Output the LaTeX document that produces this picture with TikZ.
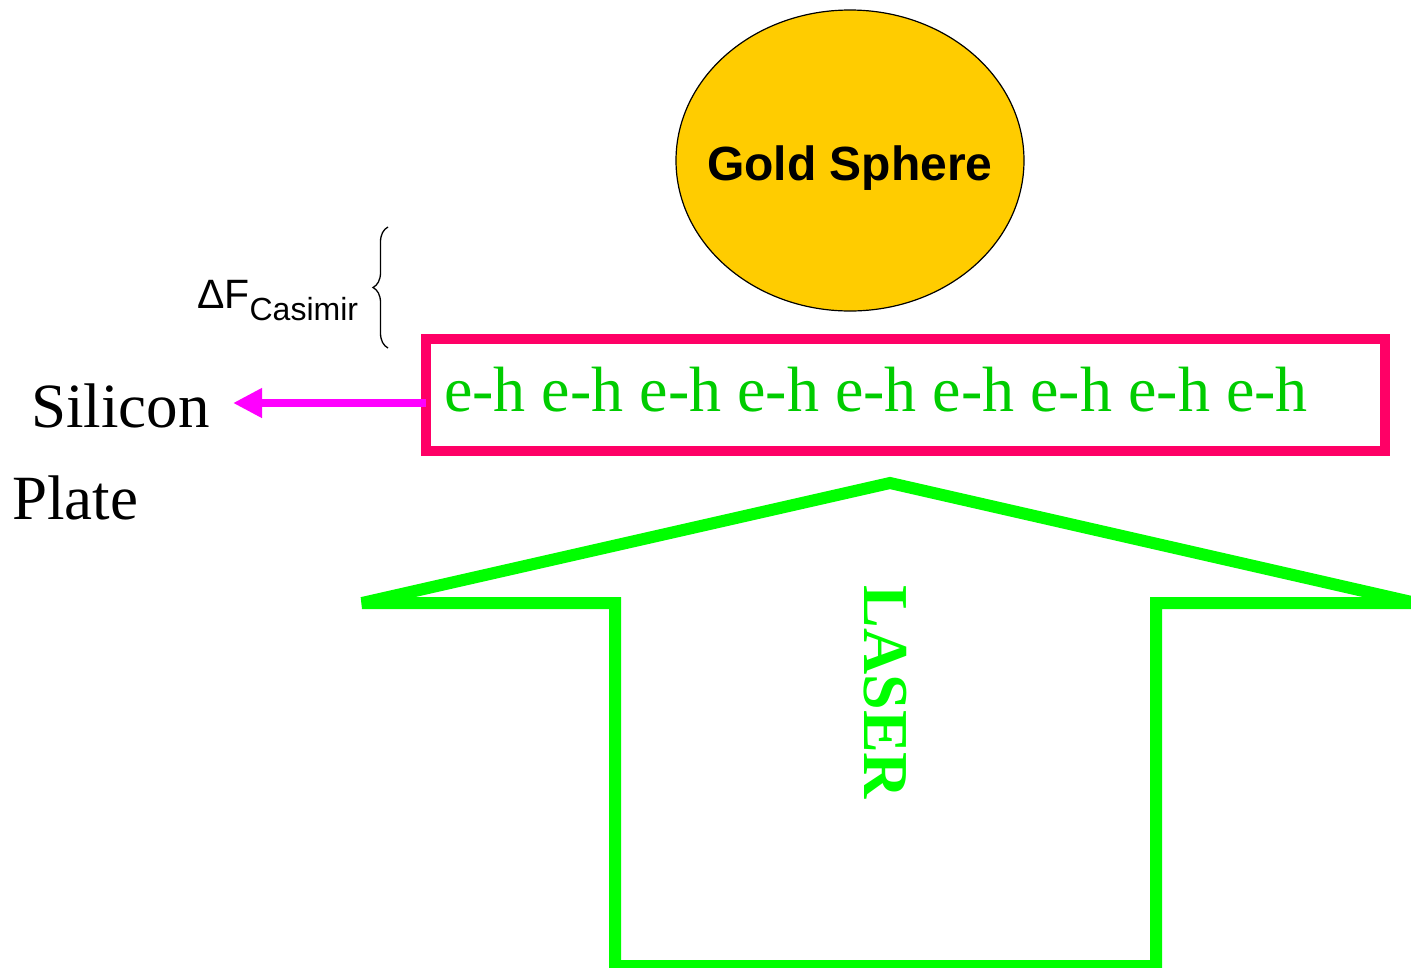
\documentclass[tikz,border=0pt]{standalone}
\usepackage{fontspec}
\setmainfont{Liberation Serif}
\newfontfamily\arialfont{Liberation Sans}
\usetikzlibrary{arrows.meta,shapes.geometric,decorations.pathreplacing}
\definecolor{goldfill}{HTML}{FFCC00}
\definecolor{platepink}{HTML}{FF0066}
\definecolor{pairgreen}{HTML}{00CC00}
\definecolor{lasergreen}{HTML}{00FF00}
\definecolor{pullmagenta}{HTML}{FF00FF}
\tikzset{
% Sphere above the plate, and the plate itself
gold sphere/.style={ellipse,draw,line width=1.2pt,fill=goldfill,inner sep=0pt,
  minimum width=348pt,minimum height=301pt},
silicon plate/.style={rectangle,draw=platepink,line width=10pt,inner sep=0pt,
  outer sep=0pt,minimum width=959pt,minimum height=112pt},
% Arrows and outlines
pull arrow/.style={draw=pullmagenta,line width=8pt,
  -{Triangle[length=29pt,width=28pt]}},
laser outline/.style={draw=lasergreen,line width=12pt,line join=miter,miter limit=4},
gap brace/.style={decorate,decoration={brace,amplitude=15pt},line width=1.3pt}
}
\begin{document}
\begin{tikzpicture}[x=1pt,y=-1pt]
        \useasboundingbox (0,0) rectangle (1411,967);
        % Sphere
        \node(sphere)[gold sphere] at (850,160.5) {};
        \node(goldlabel)[anchor=base,font=\arialfont\bfseries\fontsize{48}{50}\selectfont]
          at (850,180) {Gold Sphere};
        % Plate with electron-hole pairs
        \node(plate)[silicon plate] at (905.5,395) {};
        \node(pairs)[anchor=base west,inner sep=0pt,text=pairgreen,
          font=\fontsize{64}{70}\selectfont] at (444,411)
          {e-h e-h e-h e-h e-h e-h e-h e-h e-h};
        % Plate label and arrow
        \node(silicon)[anchor=base west,inner sep=0pt,font=\fontsize{63}{70}\selectfont]
          at (31,427) {Silicon};
        \node(platelabel)[anchor=base west,inner sep=0pt,font=\fontsize{63}{70}\selectfont]
          at (12,519) {Plate};
        \coordinate(tipend) at (233,403);
        \draw[pull arrow] (plate.west |- tipend) -- (tipend);
        % Force change across the gap
        \coordinate(bracetop) at (388,227);
        \coordinate(bracebot) at (388,348);
        \draw[gap brace] (bracebot) -- (bracetop);
        \node(force)[anchor=base west,inner sep=0pt,font=\arialfont\fontsize{41}{44}\selectfont]
          at (197,308) {ΔF\raisebox{-12pt}{\fontsize{32}{34}\selectfont Casimir}};
        % Laser arrow
        \draw[laser outline] (890,483) -- (1416,603) -- (1156,603) -- (1156,966)
          -- (615,966) -- (615,603) -- (362,603) -- cycle;
        \node(laser)[rotate=-90,inner sep=0pt,text=lasergreen,
          font=\bfseries\fontsize{64}{70}\selectfont] at (885,692.5) {LASER};
      \end{tikzpicture}
\end{document}
